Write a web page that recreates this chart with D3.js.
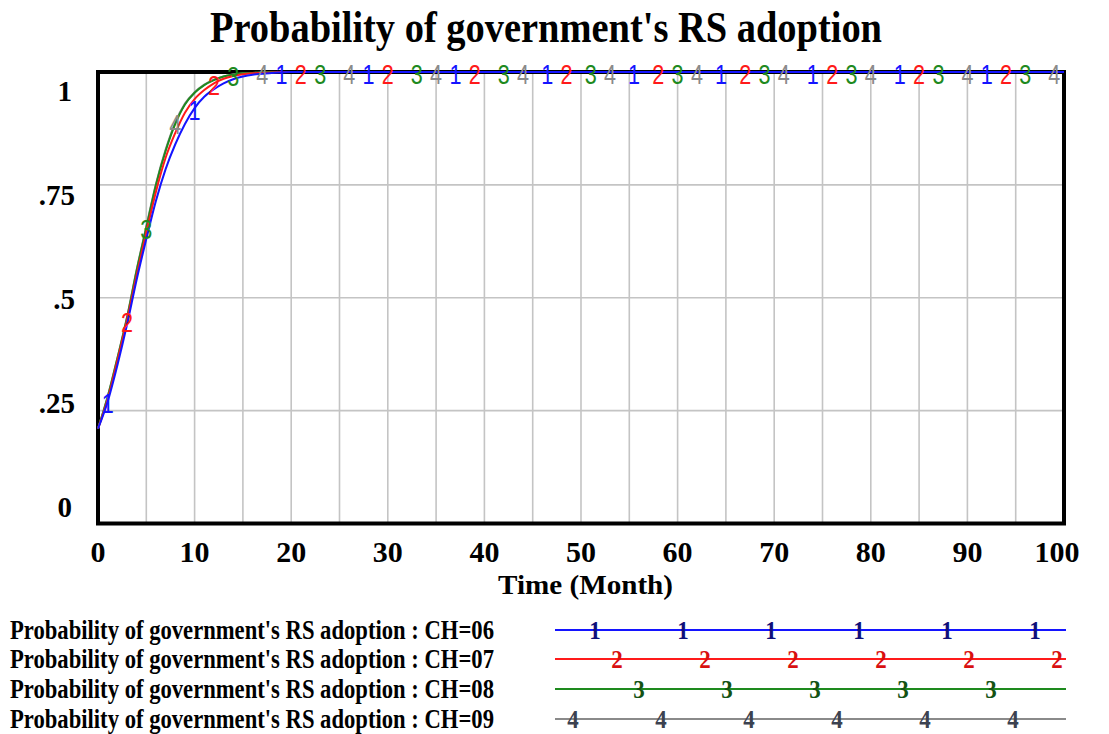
<!DOCTYPE html>
<html>
<head>
<meta charset="utf-8">
<script src="https://cdn.jsdelivr.net/npm/d3@7"></script>
<style>
  html, body { margin: 0; padding: 0; background: #ffffff; }
  svg { display: block; }
</style>
</head>
<body>
<svg id="chart" width="1109" height="734"></svg>
<script>
// Simulation output: probability of government's RS adoption per CH scenario
const months = [0, 1, 2, 3, 4, 5, 6, 7, 8, 9, 10, 11, 12, 13, 14, 15, 16, 17, 18, 19, 20,
                25, 30, 35, 40, 45, 50, 55, 60, 65, 70, 75, 80, 85, 90, 95, 100];

const ch06 = [0.21, 0.27, 0.35, 0.44, 0.54, 0.63, 0.715, 0.785, 0.84, 0.885, 0.92, 0.945, 0.962,
              0.975, 0.984, 0.99, 0.994, 0.996, 0.998, 0.999, 1,
              1, 1, 1, 1, 1, 1, 1, 1, 1, 1, 1, 1, 1, 1, 1, 1];
const ch07 = [0.21, 0.275, 0.36, 0.45, 0.55, 0.645, 0.735, 0.81, 0.865, 0.91, 0.94, 0.96, 0.975,
              0.985, 0.991, 0.995, 0.997, 0.998, 0.999, 1, 1,
              1, 1, 1, 1, 1, 1, 1, 1, 1, 1, 1, 1, 1, 1, 1, 1];
const ch08 = [0.21, 0.28, 0.365, 0.455, 0.56, 0.655, 0.75, 0.825, 0.885, 0.928, 0.954, 0.971, 0.982,
              0.99, 0.994, 0.997, 0.998, 0.999, 1, 1, 1,
              1, 1, 1, 1, 1, 1, 1, 1, 1, 1, 1, 1, 1, 1, 1, 1];
const ch09 = [0.21, 0.281, 0.366, 0.457, 0.562, 0.658, 0.752, 0.828, 0.888, 0.93, 0.955, 0.972, 0.983,
              0.99, 0.995, 0.997, 0.998, 0.999, 1, 1, 1,
              1, 1, 1, 1, 1, 1, 1, 1, 1, 1, 1, 1, 1, 1, 1, 1];

const seriesLabels = ["CH=06", "CH=07", "CH=08", "CH=09"];
const seriesValues = [ch06, ch07, ch08, ch09];
const seriesMarks = ["1", "2", "3", "4"];
const lineColors = ["#1414ff", "#ff1a1a", "#1e8a1e", "#8a8a8a"];
const legendMarkColors = ["#10107a", "#d81010", "#145214", "#3c4250"];

// months at which each run carries its number tag
const markMonths = [
  [1, 10, 19, 28, 37, 46.5, 55.5, 64.5, 74, 83, 92],
  [3, 12, 21, 30, 39, 48.5, 58, 67, 76, 85, 94],
  [5, 14, 23, 33, 42, 51, 60, 69, 78, 87, 96],
  [8, 17, 26, 35, 44, 53, 62, 71, 80, 90, 99]
];

const xTicks = [0, 10, 20, 30, 40, 50, 60, 70, 80, 90, 100];
const xGrid = d3.range(5, 100, 5);
const yTicks = [0, 0.25, 0.5, 0.75, 1];
const yTickLabels = ["0", ".25", ".5", ".75", "1"];

const titleText = "Probability of government's RS adoption";
const xTitle = "Time (Month)";
const varName = "Probability of government's RS adoption";

const svg = d3.select("#chart");
const serif = "'Liberation Serif', 'Times New Roman', serif";
const sans = "'Liberation Sans', Arial, sans-serif";

const plot = { left: 98, right: 1064, top: 72, bottom: 523.5 };
const x = d3.scaleLinear().domain([0, 100]).range([plot.left, plot.right]);
const y = d3.scaleLinear().domain([0, 1]).range([plot.bottom, plot.top]);
// value labels sit inset from the frame edges
const yLabel = d3.scaleLinear().domain([0, 1]).range([507, 91.5]);

// narrow, tall lettering: set at a smaller size, then stretched vertically about its baseline
function stretchY(sel, x0, y0, k) {
  sel.attr("transform", `translate(${x0},${y0}) scale(1,${k}) translate(${-x0},${-y0})`);
}

// title
svg.append("text")
  .attr("x", 210).attr("y", 42)
  .attr("textLength", 672).attr("lengthAdjust", "spacingAndGlyphs")
  .style("font-family", serif).style("font-weight", "bold").style("font-size", "37px")
  .call(stretchY, 210, 42, 1.18)
  .text(titleText);

// grid
const grid = svg.append("g").attr("stroke", "#c4c4c4").attr("stroke-width", 1.6);
grid.selectAll("line.v").data(xGrid).join("line").attr("class", "v")
  .attr("x1", d => x(d)).attr("x2", d => x(d))
  .attr("y1", plot.top).attr("y2", plot.bottom);
grid.selectAll("line.h").data(yTicks.filter(d => d > 0 && d < 1)).join("line").attr("class", "h")
  .attr("x1", plot.left).attr("x2", plot.right)
  .attr("y1", d => y(d)).attr("y2", d => y(d));

// frame
svg.append("rect")
  .attr("x", plot.left).attr("y", plot.top)
  .attr("width", plot.right - plot.left).attr("height", plot.bottom - plot.top)
  .attr("fill", "none").attr("stroke", "#000").attr("stroke-width", 4);

// x axis labels
svg.append("g").selectAll("text").data(xTicks).join("text")
  .attr("x", d => x(d) - (d === 100 ? 7 : 0)).attr("y", 562)
  .attr("text-anchor", "middle")
  .style("font-family", serif).style("font-weight", "bold").style("font-size", "30px")
  .text(d => d);

svg.append("text")
  .attr("x", 498).attr("y", 594)
  .attr("textLength", 175).attr("lengthAdjust", "spacingAndGlyphs")
  .style("font-family", serif).style("font-weight", "bold").style("font-size", "28px")
  .text(xTitle);

// y axis labels
svg.append("g").selectAll("text").data(yTicks).join("text")
  .attr("x", d => (d === 0 || d === 1) ? 72 : 75)
  .attr("y", d => yLabel(d)).attr("dy", "0.34em")
  .attr("text-anchor", "end")
  .style("font-family", serif).style("font-weight", "bold").style("font-size", "29px")
  .text((d, i) => yTickLabels[i]);

// runs
const runs = seriesValues.map((vals, i) => ({
  i, points: months.map((m, k) => [m, vals[k]])
}));
const line = d3.line().x(d => x(d[0])).y(d => y(d[1])).curve(d3.curveMonotoneX);
const drawOrder = [3, 2, 1, 0];

svg.append("g").selectAll("path").data(drawOrder.map(i => runs[i])).join("path")
  .attr("d", r => line(r.points))
  .attr("fill", "none")
  .attr("stroke", r => lineColors[r.i])
  .attr("stroke-width", 2);

// value of a run at a given month, read along its plotted segments
const bis = d3.bisector(d => d[0]).left;
function valueAt(points, m) {
  const k = Math.min(Math.max(bis(points, m), 1), points.length - 1);
  const a = points[k - 1], b = points[k];
  return a[1] + (b[1] - a[1]) * (m - a[0]) / (b[0] - a[0]);
}

const markG = svg.append("g");
runs.forEach(r => {
  markG.selectAll(null).data(markMonths[r.i]).join("text")
    .attr("x", m => x(m)).attr("y", m => y(valueAt(r.points, m)))
    .attr("dy", "0.42em")
    .attr("text-anchor", "middle")
    .attr("transform", m => {
      const cx = x(m), cy = y(valueAt(r.points, m));
      return `translate(${cx},${cy}) scale(0.9,1.15) translate(${-cx},${-cy})`;
    })
    .style("font-family", sans).style("font-size", "24px")
    .attr("fill", lineColors[r.i])
    .text(seriesMarks[r.i]);
});

// legend
const legendRows = [630, 659, 689, 719];
const legendLine = { x1: 555, x2: 1066 };
const legendFirst = [40, 62, 84, 18];
const legendStep = 88;

const lg = svg.append("g");
seriesLabels.forEach((lab, i) => {
  const cy = legendRows[i];
  lg.append("text")
    .attr("x", 10).attr("y", cy + 9)
    .attr("textLength", 484).attr("lengthAdjust", "spacingAndGlyphs")
    .style("font-family", serif).style("font-weight", "bold").style("font-size", "22px")
    .call(stretchY, 10, cy + 9, 1.27)
    .text(varName + " : " + lab);
  lg.append("line")
    .attr("x1", legendLine.x1).attr("x2", legendLine.x2)
    .attr("y1", cy).attr("y2", cy)
    .attr("stroke", lineColors[i]).attr("stroke-width", 2);
  const xs = [];
  for (let px = legendLine.x1 + legendFirst[i]; px <= legendLine.x2 - 4; px += legendStep) xs.push(px);
  lg.selectAll(null).data(xs).join("text")
    .attr("x", d => d).attr("y", cy).attr("dy", "0.36em")
    .attr("text-anchor", "middle")
    .style("font-family", serif).style("font-weight", "bold").style("font-size", "23px")
    .attr("transform", d => `translate(${d},${cy}) scale(1,1.12) translate(${-d},${-cy})`)
    .attr("fill", legendMarkColors[i])
    .text(seriesMarks[i]);
});
</script>
</body>
</html>
